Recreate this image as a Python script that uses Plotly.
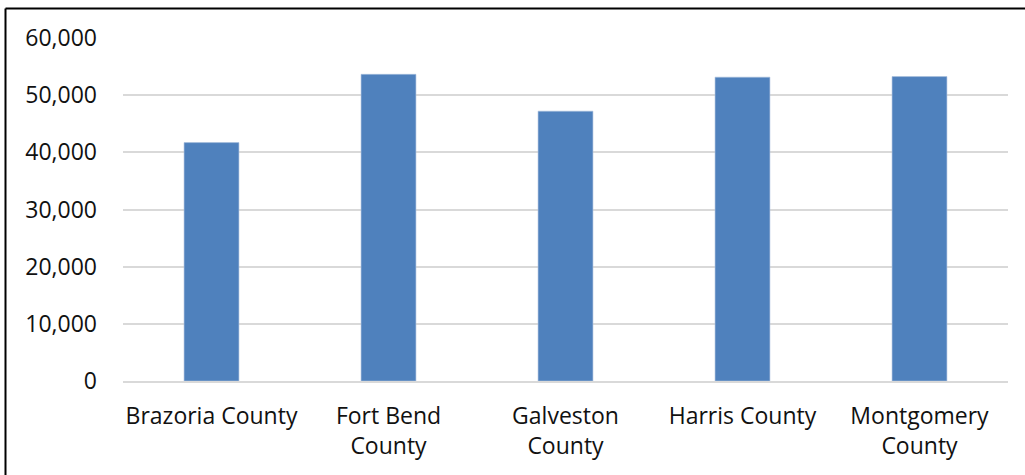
import plotly.graph_objects as go

counties = ["Brazoria County", "Fort Bend<br>County", "Galveston<br>County", "Harris County", "Montgomery<br>County"]
values = [41700, 53650, 47200, 53150, 53250]
tick_vals = [0, 10000, 20000, 30000, 40000, 50000, 60000]
tick_text = ["0", "10,000", "20,000", "30,000", "40,000", "50,000", "60,000"]

W, H = 1025, 475
ML, MR, MT, MB = 123, 17, 38, 94
PW = W - ML - MR
PH = H - MT - MB

def px(x):
    return (x - ML) / PW

def py(y):
    return (H - MB - y) / PH

fig = go.Figure(go.Bar(
    x=counties, y=values,
    marker=dict(color="#4F81BD", line=dict(color="#A9C0DE", width=0.6)),
    hoverinfo="skip",
))

fig.update_layout(
    width=W, height=H,
    margin=dict(l=ML, r=MR, t=MT, b=MB, pad=0),
    paper_bgcolor="white", plot_bgcolor="white",
    bargap=0.69,
    showlegend=False,
    font=dict(family="Open Sans", size=23, color="#111111"),
    xaxis=dict(showgrid=False, showline=True, linecolor="#D9D9D9", linewidth=1.5,
               ticks="", tickfont=dict(size=23), ticklabelstandoff=14, fixedrange=True),
    yaxis=dict(range=[0, 60000], tickvals=tick_vals, ticktext=tick_text,
               showgrid=True, gridcolor="#D9D9D9", gridwidth=1.5, zeroline=False,
               showline=False, ticks="", ticklabelstandoff=25, tickfont=dict(size=23),
               fixedrange=True),
    shapes=[
        dict(type="line", xref="paper", yref="paper", x0=px(5.5), x1=px(1030), y0=py(8.5), y1=py(8.5),
             line=dict(color="black", width=2)),
        dict(type="line", xref="paper", yref="paper", x0=px(5.5), x1=px(5.5), y0=py(8.5), y1=py(480),
             line=dict(color="black", width=2)),
    ],
)

fig.write_html("out.html", config={"displayModeBar": False},
               post_script="document.body.style.margin='0';document.body.style.overflow='hidden';")
